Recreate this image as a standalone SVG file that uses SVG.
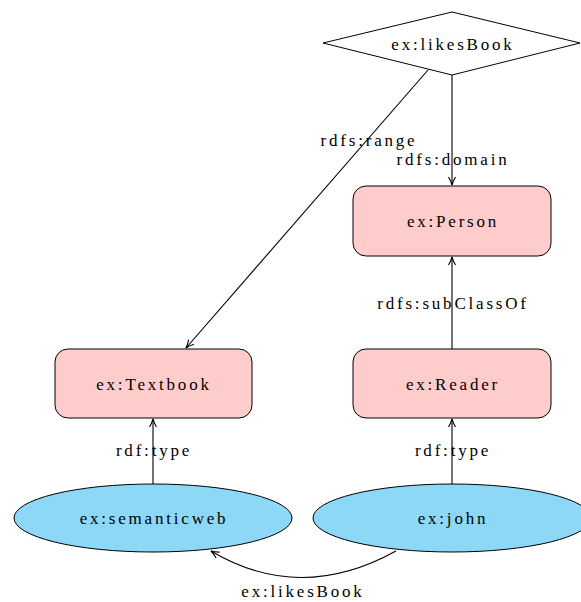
<svg xmlns="http://www.w3.org/2000/svg" width="581" height="602" viewBox="0 0 581 602">
<style>
text{font-family:"Liberation Serif","DejaVu Serif",serif;font-size:17px;letter-spacing:2.8px;text-anchor:middle;fill:#000}
.box{fill:#ffcccc;stroke:#000;stroke-width:1}
.ell{fill:#8dd8f6;stroke:#000;stroke-width:1}
.dia{fill:#fff;stroke:#000;stroke-width:1}
.edge{fill:none;stroke:#000;stroke-width:1.1;marker-end:url(#arr)}
</style>
<defs>
<marker id="arr" viewBox="0 0 10 10" refX="9" refY="5" markerWidth="10" markerHeight="10" markerUnits="userSpaceOnUse" orient="auto">
<path d="M1,1.5 Q5,4 9,5 Q5,6 1,8.5" fill="none" stroke="#000" stroke-width="1.1"/>
</marker>
</defs>
<g id="connectors">
<line class="edge" x1="452" y1="75" x2="452" y2="185"/>
<line class="edge" x1="428" y1="70" x2="186" y2="348"/>
<line class="edge" x1="452" y1="349" x2="452" y2="257"/>
<line class="edge" x1="153" y1="484" x2="153" y2="419"/>
<line class="edge" x1="452" y1="484" x2="452" y2="419"/>
<path class="edge" d="M396,551 Q300,604 211,551"/>
<text x="369" y="146">rdfs:range</text>
<text x="453" y="165">rdfs:domain</text>
<text x="453" y="309">rdfs:subClassOf</text>
<text x="154" y="456">rdf:type</text>
<text x="453" y="456">rdf:type</text>
<text x="303" y="597">ex:likesBook</text>
</g>
<g id="likesBook">
<polygon class="dia" points="452,12 580,43 452,75 323,43"/>
<text x="453" y="50">ex:likesBook</text>
</g>
<g id="person">
<rect class="box" x="353" y="186" width="198" height="70" rx="13"/>
<text x="453" y="227">ex:Person</text>
</g>
<g id="textbook">
<rect class="box" x="55" y="349" width="197" height="69" rx="13"/>
<text x="154" y="390">ex:Textbook</text>
</g>
<g id="reader">
<rect class="box" x="353" y="349" width="198" height="69" rx="13"/>
<text x="453" y="390">ex:Reader</text>
</g>
<g id="semanticweb">
<ellipse class="ell" cx="153" cy="518" rx="139" ry="34"/>
<text x="154" y="524">ex:semanticweb</text>
</g>
<g id="john">
<ellipse class="ell" cx="452" cy="518" rx="139" ry="34"/>
<text x="453" y="524">ex:john</text>
</g>
</svg>
